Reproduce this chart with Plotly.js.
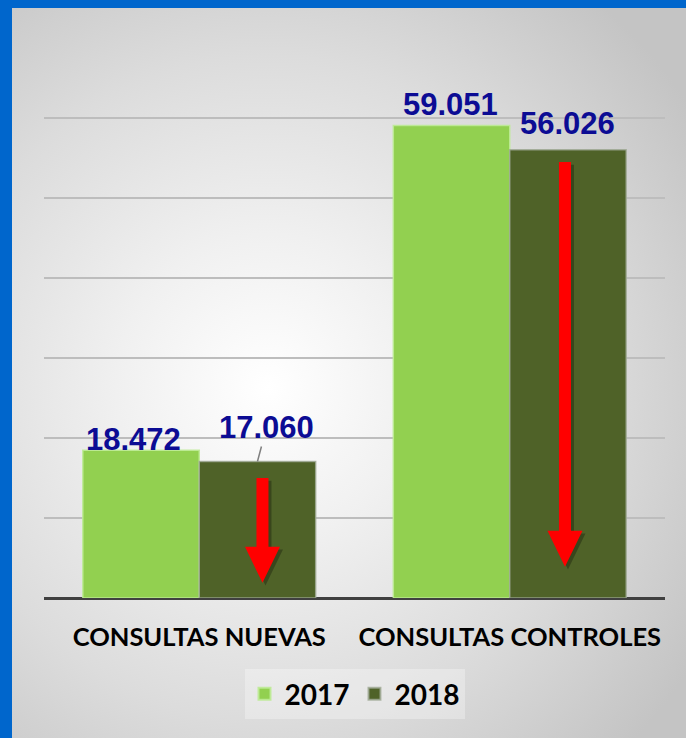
<!DOCTYPE html>
<html>
<head>
<meta charset="utf-8">
<script src="https://cdn.plot.ly/plotly-3.0.1.min.js"></script>
<style>
  html, body { margin: 0; padding: 0; }
  body { width: 686px; height: 738px; background: #0066CC; overflow: hidden; position: relative; }
  #chart {
    position: absolute; left: 12px; top: 8px; width: 674px; height: 730px;
    background: radial-gradient(ellipse 75% 70% at 38% 52%, #ffffff 0%, #f0f0f0 30%, #dcdcdc 65%, #c4c4c4 100%);
  }
</style>
</head>
<body>
<div id="chart"></div>
<script>
// ---- data ----
const categories = ["CONSULTAS NUEVAS", "CONSULTAS CONTROLES"];
const years = ["2017", "2018"];
const values2017 = [18472, 59051];
const values2018 = [17060, 56026];
const labels2017 = ["18.472", "59.051"];
const labels2018 = ["17.060", "56.026"];

const colors = ["#92D050", "#4F6228"];
const bargap = 0.25;
const barW = (1 - bargap) / 2;
const off = [-barW / 2, barW / 2];

const series = [values2017, values2018];
const labelSets = [labels2017, labels2018];
const edge = ["rgba(190,235,150,0.9)", "rgba(160,170,150,0.8)"];

const traces = series.map((vals, s) => ({
  type: "bar",
  x: categories,
  y: vals,
  name: years[s],
  showlegend: false,
  marker: { color: colors[s], line: { color: edge[s], width: 1.5 } },
  hoverinfo: "x+y+name"
}));
// legend entries (square swatches)
years.forEach((yr, s) => traces.push({
  type: "scatter", mode: "markers", x: [null], y: [null], name: yr,
  marker: { symbol: "square", size: 16, color: colors[s], line: { color: edge[s], width: 1 } },
  showlegend: true, hoverinfo: "skip"
}));

// label placement tweaks (pixels)
const lblShift = [
  [ {dx: -8, dy: 11}, {dx: -1, dy: 21} ],   // 2017
  [ {dx: 9, dy: 34, arrow: true}, {dx: 0, dy: 26} ] // 2018
];
const annotations = [];
series.forEach((vals, s) => vals.forEach((v, i) => {
  const sh = lblShift[s][i];
  const base = {
    x: i + off[s], y: v, xref: "x", yref: "y",
    text: labelSets[s][i],
    font: { family: "Liberation Sans, Arial, sans-serif", size: 31, color: "#0C0C94", weight: "bold" }
  };
  if (sh.arrow) {
    Object.assign(base, { showarrow: true, arrowhead: 0, arrowwidth: 1.5, arrowcolor: "#7f7f7f",
      ax: sh.dx, ay: -sh.dy, standoff: 0 });
  } else {
    Object.assign(base, { showarrow: false, xshift: sh.dx, yshift: sh.dy, yanchor: "middle" });
  }
  annotations.push(base);
}));

// red down arrows inside the 2018 bars (decoration)
const arrowDx = [5, -3];
const arrowTopGap = [15000, 54500];
const arrowTip = [1900, 3900];
const shapes = [];
values2018.forEach((v, i) => {
  const top = arrowTopGap[i], tip = arrowTip[i], hb = tip + 4500;
  const mk = (dx, dy, col) => ({
    type: "path", xref: "x", yref: "y", xsizemode: "pixel", xanchor: i + off[1],
    path: `M ${arrowDx[i]-6+dx},${top+dy} L ${arrowDx[i]+6+dx},${top+dy} L ${arrowDx[i]+6+dx},${hb+dy} L ${arrowDx[i]+17.5+dx},${hb+dy} L ${arrowDx[i]+dx},${tip+dy} L ${arrowDx[i]-17.5+dx},${hb+dy} L ${arrowDx[i]-6+dx},${hb+dy} Z`,
    fillcolor: col, line: { width: 0 }, layer: "above"
  });
  shapes.push(mk(3, -350, "rgba(0,0,0,0.28)"));
  shapes.push(mk(0, 0, "#FF0000"));
});

const layout = {
  width: 674, height: 730,
  margin: { l: 32, r: 21, t: 30, b: 140 },
  paper_bgcolor: "rgba(0,0,0,0)",
  plot_bgcolor: "rgba(0,0,0,0)",
  barmode: "group",
  bargap: bargap,
  bargroupgap: 0,
  font: { family: "Lato, sans-serif", color: "#000" },
  xaxis: {
    type: "category", showgrid: false, showline: false, ticks: "",
    ticklabelstandoff: 21,
    tickfont: { family: "Lato, sans-serif", size: 25.5, color: "#000", weight: "bold" }
  },
  yaxis: {
    range: [0, 70000], dtick: 10000, showticklabels: false, ticks: "",
    showgrid: true, gridcolor: "#bdbdbd", gridwidth: 1.5,
    zeroline: true, zerolinecolor: "#404040", zerolinewidth: 3, showline: false
  },
  showlegend: true,
  legend: {
    orientation: "h", x: 0.5, xanchor: "center", y: -0.127, yanchor: "top",
    bgcolor: "rgba(255,255,255,0.3)", borderwidth: 0,
    font: { family: "Lato, sans-serif", size: 28, color: "#000", weight: "bold" },
    itemsizing: "constant"
  },
  annotations: annotations,
  shapes: shapes
};

Plotly.newPlot("chart", traces, layout, { displayModeBar: false, staticPlot: true });
</script>
</body>
</html>
